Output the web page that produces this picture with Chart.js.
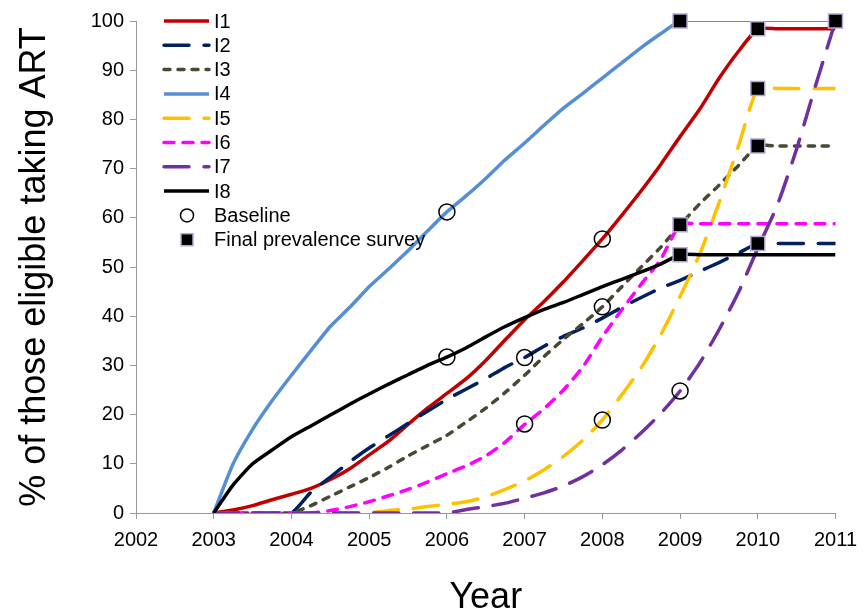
<!DOCTYPE html>
<html>
<head>
<meta charset="utf-8">
<script src="https://cdn.jsdelivr.net/npm/chart.js@4.4.0/dist/chart.umd.min.js"></script>
<style>
  html, body { margin: 0; padding: 0; background: #fff; }
</style>
</head>
<body>
<canvas id="myChart" width="866" height="612"></canvas>
<script>
// x grid (quarter years) shared by all the scenario lines
const years = [2003, 2003.25, 2003.5, 2003.75, 2004, 2004.25, 2004.5, 2004.75,
  2005, 2005.25, 2005.5, 2005.75, 2006, 2006.25, 2006.5, 2006.75,
  2007, 2007.25, 2007.5, 2007.75, 2008, 2008.25, 2008.5, 2008.75,
  2009, 2009.25, 2009.5, 2009.75, 2010, 2010.25, 2010.5, 2010.75, 2011];

// % of those eligible taking ART
const i1 = [0, 0.6, 1.5, 2.7, 3.8, 5, 6.8, 9, 11.8, 14.6, 18, 21.3, 24.3, 27.3, 31, 35.2,
  39.3, 43, 47, 51.3, 55.7, 60.5, 65.5, 70.8, 76.5, 82, 88.3, 93.8, 98.4, 98.4, 98.4, 98.4, 98.4];
const i2 = [0, 0, 0, 0, 0, 4.2, 7.3, 10.4, 13.2, 15.7, 18.2, 20.7, 23.1, 25.2, 27.3, 29.6,
  31.6, 33.9, 35.9, 37.6, 39.6, 41.8, 43.8, 45.7, 47.3, 49.1, 50.9, 52.8, 54.8, 54.8, 54.8, 54.8, 54.8];
const i3 = [0, 0, 0, 0, 0, 1.5, 3.4, 5.3, 7.2, 9.3, 11.6, 13.7, 15.8, 18.5, 21.3, 24.5,
  28, 31.8, 35.3, 38.5, 41.9, 46, 50, 54, 58.5, 62.8, 66.6, 70.6, 74.6, 74.6, 74.6, 74.6, 74.6];
const i4 = [0, 10, 17, 22.8, 28, 33, 37.9, 41.8, 46, 49.6, 53.3, 57.3, 61.2, 64.5, 68, 71.8,
  75.2, 78.8, 82.3, 85.3, 88.4, 91.5, 94.6, 97.4, 100, 100, 100, 100, 100, 100, 100, 100, 100];
const i5 = [0, 0, 0, 0, 0, 0, 0, 0, 0, 0.5, 0.8, 1.3, 1.8, 2.3, 3.3, 4.8,
  6.5, 8.8, 11.5, 14.8, 18.9, 24, 29.5, 36.2, 44, 52.5, 63, 74.5, 86.3, 86.3, 86.3, 86.3, 86.3];
const i6 = [0, 0, 0, 0, 0, 0, 0.5, 1.3, 2.3, 3.5, 4.8, 6.3, 8, 9.6, 11.6, 14.4,
  18, 21.2, 25, 29.7, 35.8, 41.3, 46.5, 51.5, 58.6, 58.8, 58.8, 58.8, 58.8, 58.8, 58.8, 58.8, 58.8];
const i7 = [0, 0, 0, 0, 0, 0, 0, 0, 0, 0, 0, 0, 0, 0.7, 1.3, 2,
  3, 4.1, 5.5, 7.4, 9.8, 12.8, 16.3, 20.2, 24.8, 30.4, 37.2, 44.8, 53.8, 62.5, 74, 87.2, 100];
const i8 = [0, 5.7, 10, 12.8, 15.5, 17.7, 19.9, 22.1, 24.2, 26.2, 28.1, 30, 31.7, 33.6, 35.8, 37.9,
  39.7, 41.4, 42.8, 44.4, 46, 47.5, 49, 50.6, 52.5, 52.5, 52.5, 52.5, 52.5, 52.5, 52.5, 52.5, 52.5];

// markers
const baselineYears = [2006, 2006, 2007, 2007, 2008, 2008, 2008, 2009];
const baselineValues = [61.2, 31.7, 31.6, 18.1, 55.7, 41.9, 18.9, 24.8];
const finalYears = [2009, 2010, 2011, 2010, 2010, 2009, 2009, 2010];
const finalValues = [100, 98.4, 100, 86.3, 74.6, 58.6, 52.5, 54.8];

const yTicks = [0, 10, 20, 30, 40, 50, 60, 70, 80, 90, 100];
const xTicks = [2002, 2003, 2004, 2005, 2006, 2007, 2008, 2009, 2010, 2011];

const FONT = '"Liberation Sans", Arial, sans-serif';
const longDash = [25, 15];

function pts(xs, ys) {
  return xs.map((x, k) => ({ x: x, y: ys[k] }));
}

function lineSet(label, vals, color, dash, order) {
  return {
    label: label,
    data: pts(years, vals),
    borderColor: color,
    backgroundColor: color,
    borderWidth: 3.5,
    borderDash: dash,
    borderCapStyle: dash.length ? 'round' : 'butt',
    borderJoinStyle: 'round',
    pointRadius: 0,
    tension: 0.2,
    order: order
  };
}

const datasets = [
  lineSet('I1', i1, '#C00000', [], 10),
  lineSet('I2', i2, '#002060', longDash, 9),
  lineSet('I3', i3, '#4A4733', [6, 8], 8),
  lineSet('I4', i4, '#558ED5', [], 7),
  lineSet('I5', i5, '#FFC000', longDash, 6),
  lineSet('I6', i6, '#FF00FF', [10, 9], 5),
  lineSet('I7', i7, '#7030A0', longDash, 4),
  lineSet('I8', i8, '#000000', [], 3),
  {
    label: 'Baseline',
    data: pts(baselineYears, baselineValues),
    showLine: false,
    pointStyle: 'circle',
    pointRadius: 8,
    borderColor: '#000',
    borderWidth: 1.5,
    backgroundColor: 'rgba(255,255,255,0)',
    clip: false,
    order: 2
  },
  {
    label: 'Final prevalence survey',
    data: pts(finalYears, finalValues),
    showLine: false,
    pointStyle: 'rect',
    pointRadius: 9.9,
    borderColor: '#B4A7D6',
    borderWidth: 1.5,
    backgroundColor: '#000',
    clip: false,
    order: 1
  }
];

// I4 gets thin after it reaches 100
datasets[3].segment = {
  borderWidth: c => c.p0.parsed.x >= 2009 ? 2 : 3.5
};

// legend drawn inside the plot, top left
const insideLegend = {
  id: 'insideLegend',
  afterDraw(chart) {
    const ctx = chart.ctx;
    ctx.save();
    ctx.font = '20px ' + FONT;
    ctx.textBaseline = 'middle';
    chart.data.datasets.forEach((ds, i) => {
      const y = 21 + i * 24.3;
      if (ds.showLine === false) {
        ctx.lineWidth = 1.5;
        ctx.strokeStyle = ds.borderColor;
        if (ds.pointStyle === 'circle') {
          ctx.beginPath();
          ctx.arc(187, y, 6.5, 0, Math.PI * 2);
          ctx.stroke();
        } else {
          ctx.fillStyle = ds.backgroundColor;
          ctx.fillRect(181, y - 6, 12, 12);
          ctx.strokeRect(181, y - 6, 12, 12);
        }
      } else {
        ctx.lineWidth = 3.5;
        ctx.strokeStyle = ds.borderColor;
        ctx.lineCap = ds.borderCapStyle;
        ctx.setLineDash(ds.borderDash);
        ctx.beginPath();
        ctx.moveTo(164, y);
        ctx.lineTo(209, y);
        ctx.stroke();
        ctx.setLineDash([]);
      }
      ctx.fillStyle = '#000';
      ctx.fillText(ds.label, 214, y + 1);
    });
    ctx.restore();
  }
};

const ctx = document.getElementById('myChart').getContext('2d');
const myChart = new Chart(ctx, {
  type: 'line',
  data: { datasets: datasets },
  plugins: [insideLegend],
  options: {
    responsive: false,
    animation: false,
    events: [],
    layout: { autoPadding: false, padding: { top: 21, right: 20, bottom: 0, left: 0 } },
    plugins: { legend: { display: false }, tooltip: { enabled: false } },
    scales: {
      x: {
        type: 'linear',
        min: 2002,
        max: 2011,
        afterFit: s => { s.height = 99; },
        afterBuildTicks: s => { s.ticks = xTicks.map(v => ({ value: v })); },
        grid: { display: true, drawOnChartArea: false, drawTicks: true, tickLength: 6, color: '#999' },
        border: { display: true, color: '#999', width: 1 },
        ticks: {
          autoSkip: false,
          maxRotation: 0,
          padding: 9,
          color: '#000',
          font: { family: FONT, size: 20 },
          callback: v => String(v)
        },
        title: {
          display: true,
          text: 'Year',
          color: '#000',
          font: { family: FONT, size: 36, lineHeight: 0.8 },
          padding: { top: 0, bottom: 0 }
        }
      },
      y: {
        min: 0,
        max: 100,
        afterFit: s => { s.width = 136; },
        afterBuildTicks: s => { s.ticks = yTicks.map(v => ({ value: v })); },
        grid: { display: true, drawOnChartArea: false, drawTicks: true, tickLength: 6, color: '#999' },
        border: { display: true, color: '#999', width: 1 },
        ticks: {
          padding: 6,
          color: '#000',
          font: { family: FONT, size: 20 }
        },
        title: {
          display: true,
          text: '% of those eligible taking ART',
          color: '#000',
          font: { family: FONT, size: 36, lineHeight: 1 },
          padding: { top: 17, bottom: 0 }
        }
      }
    }
  }
});
</script>
</body>
</html>
